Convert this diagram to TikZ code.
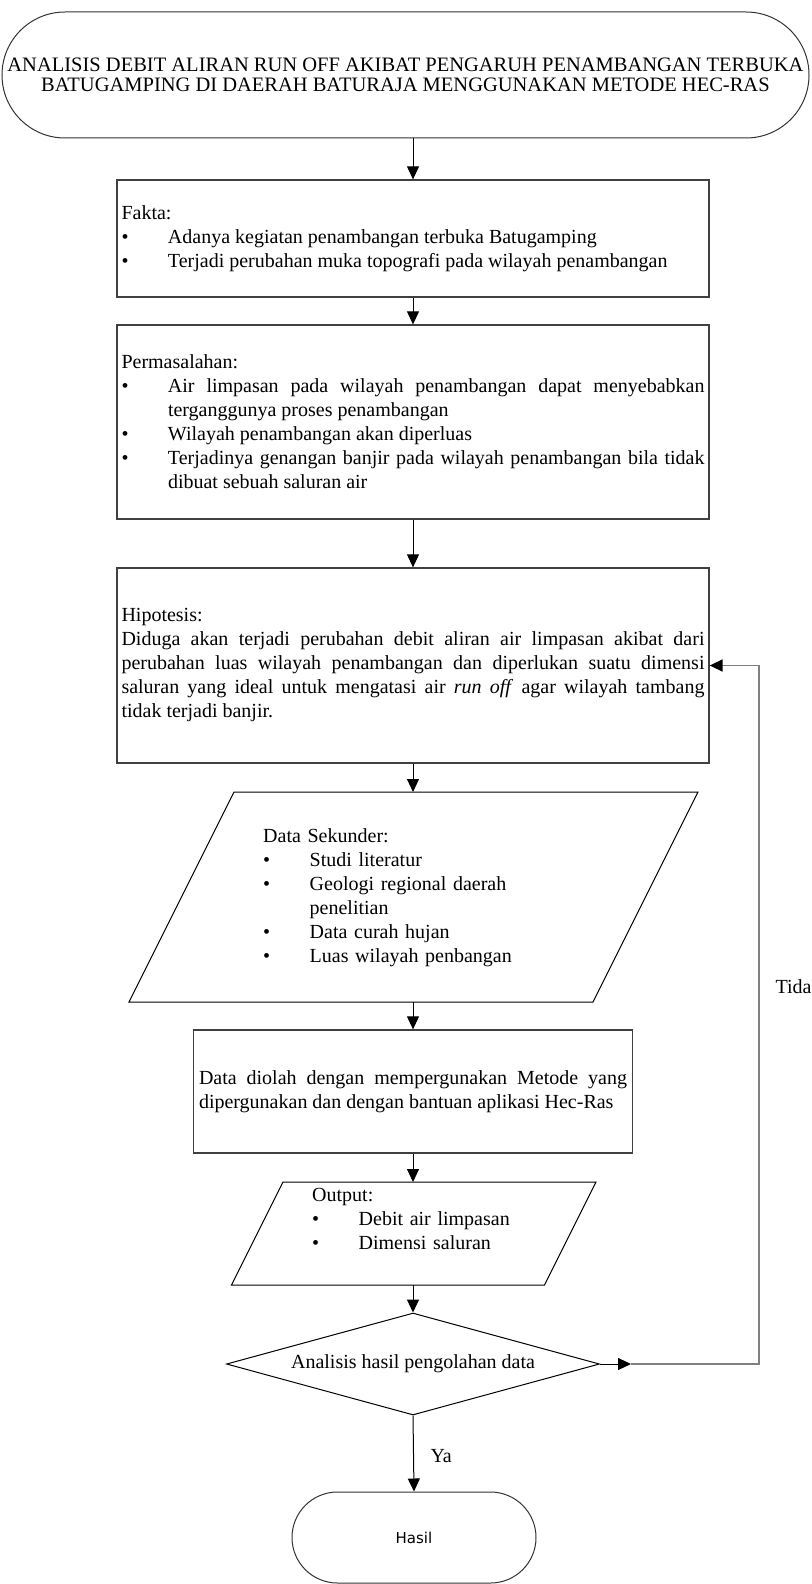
\documentclass[tikz,border=0pt]{standalone}
\usepackage{fontspec}
\setmainfont{Liberation Serif}
\newfontfamily\hasilfont{DejaVu Sans}
\usetikzlibrary{shapes.geometric,arrows.meta}
\definecolor{garis}{RGB}{64,64,64}
\definecolor{balikabu}{RGB}{128,128,128}
\hyphenpenalty=10000
\exhyphenpenalty=10000
\newcommand{\isi}{\fontsize{20}{24}\selectfont}
\newcommand{\butir}[1]{\par\noindent\hangindent=46.5pt\hangafter=1\makebox[46.5pt][l]{\textbullet}#1\par}

\begin{document}
\begin{tikzpicture}[x=1pt, y=1pt,
  kotak/.style={draw=garis, line width=1.3pt, inner sep=0pt, minimum width=592pt, text width=583pt, align=justify, font=\isi},
  bentuk/.style={draw=black, line width=1pt},
  isiteks/.style={inner sep=0pt, align=left, font=\isi},
  panah/.style={draw=black, line width=1pt, -{Triangle[width=12pt,length=13pt]}},
  balik/.style={draw=balikabu, line width=1.6pt, -{Triangle[width=12pt,length=13pt,color=black]}}]

\useasboundingbox (0,0) rectangle (811,-1584);

% Judul
\node[draw=black!80, line width=1pt, rounded corners=63pt, minimum width=807pt, minimum height=126pt,
  inner sep=0pt, align=center, font=\fontsize{20.5}{20}\selectfont] (judul) at (405.5,-75)
  {ANALISIS DEBIT ALIRAN RUN OFF AKIBAT PENGARUH PENAMBANGAN TERBUKA\\
   BATUGAMPING DI DAERAH BATURAJA MENGGUNAKAN METODE HEC-RAS};

% Fakta
\node[kotak, minimum height=117pt] (fakta) at (413,-238.5)
  {Fakta:\butir{Adanya kegiatan penambangan terbuka Batugamping}%
   \butir{Terjadi perubahan muka topografi pada wilayah penambangan}};

% Permasalahan
\node[kotak, minimum height=194pt] (masalah) at (413,-422)
  {Permasalahan:\butir{Air limpasan pada wilayah penambangan dapat menyebabkan terganggunya proses penambangan}%
   \butir{Wilayah penambangan akan diperluas}%
   \butir{Terjadinya genangan banjir pada wilayah penambangan bila tidak dibuat sebuah saluran air}};

% Hipotesis
\node[kotak, minimum height=195pt] (hipotesis) at (413,-665.5)
  {Hipotesis:\par\noindent Diduga akan terjadi perubahan debit aliran air limpasan akibat dari
   perubahan luas wilayah penambangan dan diperlukan suatu dimensi saluran yang ideal untuk
   mengatasi air \textit{run off} agar wilayah tambang\linebreak tidak terjadi banjir.};

% Data sekunder
\draw[bentuk] (234,-792) -- (698,-792) -- (593,-1002) -- (129,-1002) -- cycle;
\coordinate (sekunder-atas) at (413,-792);
\coordinate (sekunder-bawah) at (413,-1002);
\node[isiteks, text width=262pt, anchor=north west] (sekunder) at (263,-828)
  {Data Sekunder:\butir{Studi literatur}\butir{Geologi regional daerah penelitian}%
   \butir{Data curah hujan}\butir{Luas wilayah penbangan}};

% Pengolahan data
\node[kotak, minimum width=439pt, text width=428pt, minimum height=123pt] (olah) at (413,-1091.5)
  {Data diolah dengan mempergunakan Metode yang dipergunakan dan dengan bantuan aplikasi Hec-Ras};

% Output
\draw[bentuk] (283,-1182) -- (596,-1182) -- (544.5,-1285) -- (231.5,-1285) -- cycle;
\coordinate (output-atas) at (413,-1182);
\coordinate (output-bawah) at (413,-1285);
\node[isiteks, text width=220pt, anchor=north west] (output) at (312,-1188)
  {Output:\butir{Debit air limpasan}\butir{Dimensi saluran}};

% Keputusan
\node[diamond, aspect=3.66, draw=black, line width=1pt, minimum width=373pt, minimum height=102pt,
  inner sep=0pt, font=\isi] (analisis) at (413,-1364) {Analisis hasil pengolahan data};

% Hasil
\node[draw=black!80, line width=1pt, rounded corners=45.5pt, minimum width=244pt, minimum height=91pt,
  font=\hasilfont\fontsize{15}{18}\selectfont] (hasil) at (414,-1537.5) {Hasil};

% Panah utama
\coordinate (judul-bawah) at (judul.south -| fakta.north);
\foreach \dari/\ke in {judul-bawah/fakta.north, fakta.south/masalah.north,
  masalah.south/hipotesis.north, hipotesis.south/sekunder-atas,
  sekunder-bawah/olah.north, olah.south/output-atas,
  output-bawah/analisis.north, analisis.south/hasil.north} {
    \draw[panah] (\dari) -- (\ke);
}

% Umpan balik
\coordinate (kanan) at (631,-1364);
\coordinate (sudut) at (759,-1364);
\draw[panah] (analisis.east) -- (kanan);
\draw[balik] (kanan) -- (sudut) |- (hipotesis.east);

% Label
\node[font=\isi, anchor=base west] (ya) at (427,-1462) {Ya};
\node[font=\isi, anchor=base west] (tidak) at (772,-993) {Tidak};

\end{tikzpicture}
\end{document}
